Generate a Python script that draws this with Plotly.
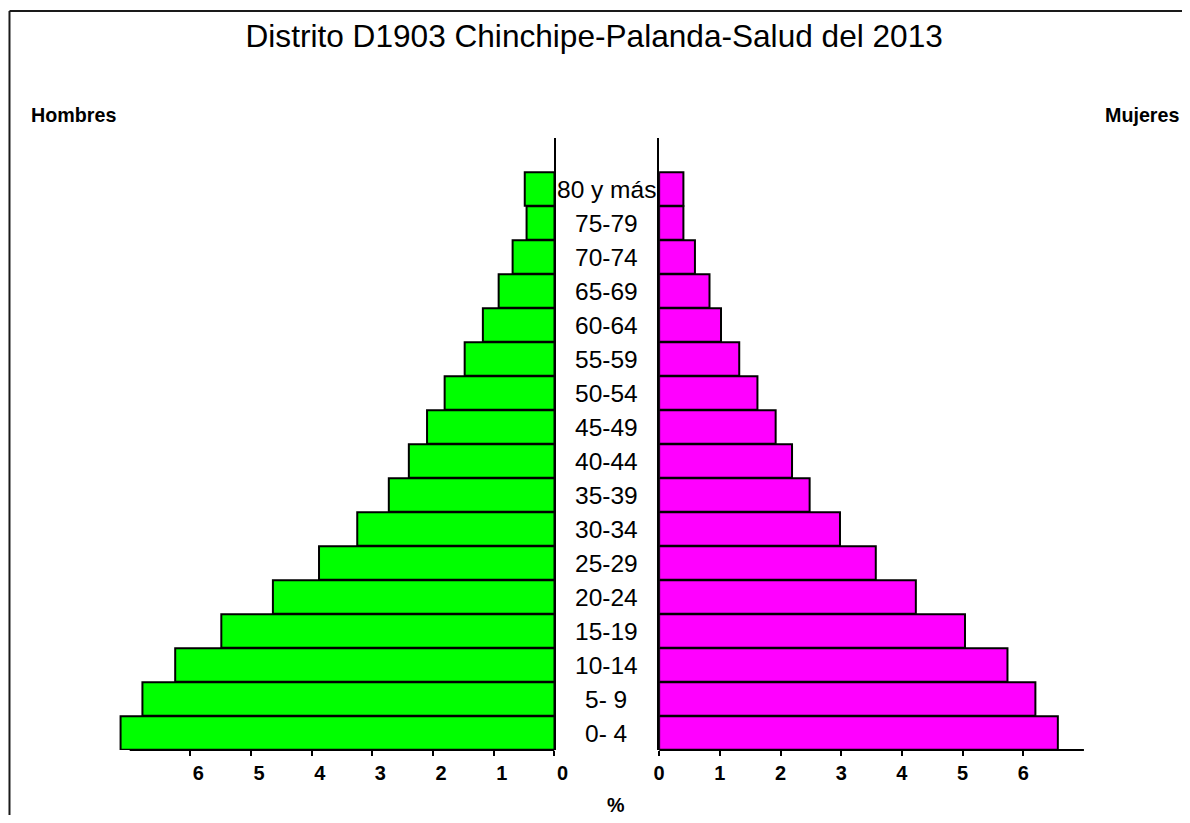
import plotly.graph_objects as go

# ---- data ----
edades = ["0- 4", "5- 9", "10-14", "15-19", "20-24", "25-29", "30-34", "35-39",
          "40-44", "45-49", "50-54", "55-59", "60-64", "65-69", "70-74", "75-79", "80 y más"]
hombres = [7.15, 6.79, 6.25, 5.49, 4.64, 3.88, 3.25, 2.73, 2.40, 2.10, 1.81, 1.48,
           1.18, 0.92, 0.69, 0.46, 0.49]
mujeres = [6.57, 6.20, 5.74, 5.04, 4.23, 3.57, 2.98, 2.48, 2.19, 1.92, 1.62, 1.32,
           1.02, 0.83, 0.59, 0.40, 0.40]
tick_vals = [0, 1, 2, 3, 4, 5, 6]
titulo = "Distrito D1903 Chinchipe-Palanda-Salud del 2013"

# ---- geometry ----
OFF = 8                                  # page body margin
W, H = 1190 - 2 * OFF, 823 - 2 * OFF
TOP, BOT = 138 - OFF, 750 - OFF          # plot area (figure coords)
SX, BX = 0.9835, 5.65                    # measured page->picture horizontal mapping


def page_x(x_ref):
    """x in the picture -> x on the page"""
    return (x_ref - BX) / SX


def fx(x_ref):
    """x in the picture -> figure pixel"""
    return page_x(x_ref) - OFF


def px(x_ref):
    return fx(x_ref) / W


def py(y_ref):
    return (BOT - (y_ref - OFF)) / (BOT - TOP)


PX_UNIT = 60.72 / SX
L0 = fx(554.3)     # zero of left axis (figure px)
R0 = fx(659.0)     # zero of right axis (figure px)
LMAX, RMAX = 7.3, 7.1

FONT = "Liberation Sans, Arial, sans-serif"
GREEN = "#00FF00"
MAGENTA = "#FF00FF"
cats = edades + [" "]

fig = go.Figure()
fig.add_trace(go.Bar(y=edades, x=hombres, orientation="h", xaxis="x", yaxis="y",
                     marker=dict(color=GREEN, line=dict(color="black", width=2)),
                     showlegend=False, hoverinfo="x+y"))
fig.add_trace(go.Bar(y=edades, x=mujeres, orientation="h", xaxis="x2", yaxis="y2",
                     marker=dict(color=MAGENTA, line=dict(color="black", width=2)),
                     showlegend=False, hoverinfo="x+y"))

tickfont = dict(family=FONT, size=20, color="black", weight="bold")
common_x = dict(tickvals=tick_vals, ticks="outside", ticklen=5, tickwidth=2,
                tickcolor="black", showline=False, showgrid=False, zeroline=False,
                tickfont=tickfont, fixedrange=True)
common_y = dict(type="category", categoryorder="array", categoryarray=cats,
                range=[-0.5, 17.5], showline=True, linewidth=2, linecolor="black",
                showticklabels=False, ticks="", showgrid=False, zeroline=False,
                fixedrange=True, domain=[0, 1])

fig.update_layout(
    width=W, height=H,
    margin=dict(l=0, r=0, t=TOP, b=H - BOT, pad=0),
    paper_bgcolor="white", plot_bgcolor="white",
    bargap=0.02,
    xaxis=dict(domain=[(L0 - LMAX * PX_UNIT) / W, L0 / W], range=[LMAX, 0],
               anchor="y", ticklabelshift=-8, **common_x),
    xaxis2=dict(domain=[R0 / W, (R0 + RMAX * PX_UNIT) / W], range=[0, RMAX],
                anchor="y2", **common_x),
    yaxis=dict(anchor="x", side="right", **common_y),
    yaxis2=dict(anchor="x2", side="left", **common_y),
    title=dict(text=titulo, x=px(594), xref="paper", xanchor="center",
               y=1 - (36 - OFF) / H, yanchor="middle",
               font=dict(family=FONT, size=31.6, color="black")),
)

# x baselines (0..7)
fig.add_shape(type="line", xref="x", yref="paper", x0=0, x1=7, y0=0, y1=0,
              line=dict(color="black", width=2))
fig.add_shape(type="line", xref="x2", yref="paper", x0=0, x1=7, y0=0, y1=0,
              line=dict(color="black", width=2))

# outer frame (top and left)
fig.add_shape(type="line", xref="paper", yref="paper", x0=px(9), x1=px(1210),
              y0=py(11), y1=py(11), line=dict(color="#1a1a1a", width=2))
fig.add_shape(type="line", xref="paper", yref="paper", x0=px(9), x1=px(9),
              y0=py(11), y1=py(840), line=dict(color="#1a1a1a", width=2))

# age labels in the middle
for e in edades:
    fig.add_annotation(text=e, xref="paper", yref="y", x=px(606), y=e,
                       xanchor="center", yanchor="middle", showarrow=False,
                       bgcolor="white", borderpad=0,
                       font=dict(family=FONT, size=24.5, color="black"))

lab = dict(family=FONT, size=19.7, color="black", weight="bold")
fig.add_annotation(text="Hombres", xref="paper", yref="paper", x=px(29), y=py(115),
                   xanchor="left", yanchor="middle", showarrow=False, font=lab)
fig.add_annotation(text="Mujeres", xref="paper", yref="paper", x=px(1181), y=py(115),
                   xanchor="right", yanchor="middle", showarrow=False, font=lab)
fig.add_annotation(text="%", xref="paper", yref="paper", x=px(616), y=py(805),
                   xanchor="center", yanchor="middle", showarrow=False, font=lab)

fig.write_html("out.html")
